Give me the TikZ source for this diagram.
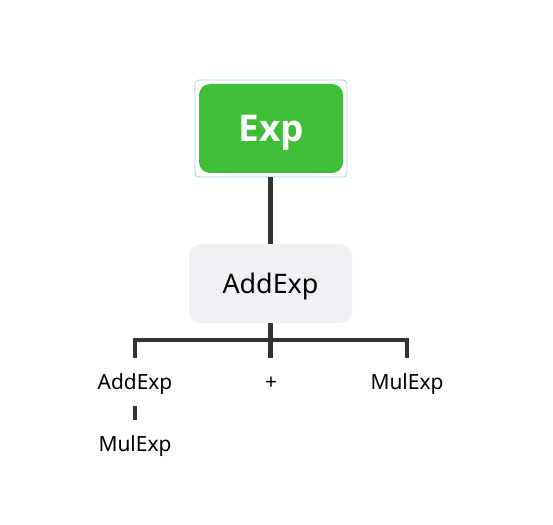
\documentclass[tikz,border=0pt]{standalone}
\usepackage{fontspec}
\setmainfont{Noto Sans}
\newfontfamily\boldsans{Open Sans}[UprightFont=*-Bold]
\begin{document}
\begin{tikzpicture}[x=1bp,y=-1bp,
  edge/.style={draw=black!80, line width=4.2bp},
  rootbox/.style={draw=none, fill={rgb,255:red,64;green,190;blue,55}, rounded corners=11bp, minimum width=144bp, minimum height=89bp, text=white, font=\boldsans\fontsize{37}{40}\selectfont, inner sep=0pt, text height=27bp, text depth=0bp},
  frame/.style={draw={rgb,255:red,160;green,212;blue,240}, line width=0.8bp, rounded corners=4bp, minimum width=152bp, minimum height=97bp, inner sep=0pt},
  midbox/.style={fill={rgb,255:red,240;green,241;blue,245}, rounded corners=12bp, minimum width=163bp, minimum height=79bp, font=\fontsize{27}{30}\selectfont, inner sep=0pt, text height=19bp, text depth=0bp},
  leaf/.style={font=\fontsize{21}{25}\selectfont, inner sep=0pt, anchor=base}
]
\useasboundingbox (0,0) rectangle (553,525);
\node[frame] (sel) at (271,128.5) {};
\node[rootbox] (exp) at (271,128.5) {Exp};
\node[midbox] (add) at (270.5,283.5) {AddExp};
\node[leaf] (c1) at (135,389) {AddExp};
\node[leaf] (c2) at (271,389) {+};
\node[leaf] (c3) at (407,389) {MulExp};
\node[leaf] (g1) at (135,451) {MulExp};
\coordinate (j) at (270.5,340);
\coordinate (t1) at (135,358);
\coordinate (t2) at (270.5,358);
\coordinate (t3) at (407,358);
\coordinate (s1) at (135,406);
\coordinate (s2) at (135,420);
\draw[edge] (sel.south -| add.north) -- (add.north);
\draw[edge] (add.south) -- (j);
\draw[edge] (t1) -- (t1 |- j) -- (t3 |- j) -- (t3);
\draw[edge] (j) -- (t2);
\draw[edge] (s1) -- (s2);
\end{tikzpicture}
\end{document}
